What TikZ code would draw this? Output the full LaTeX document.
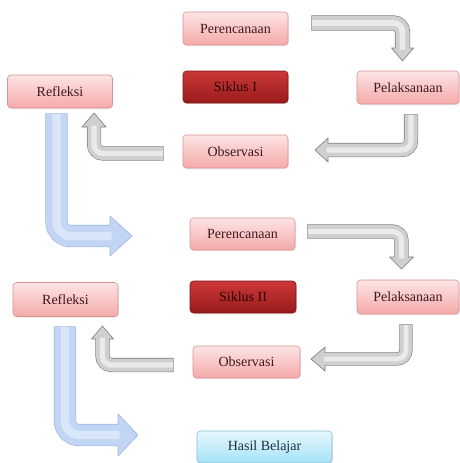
\documentclass[tikz,border=0pt]{standalone}
\usepackage{fontspec}
\setmainfont{Liberation Serif}
\usetikzlibrary{calc,shadows}
\definecolor{pinktop}{HTML}{FDE4E4}
\definecolor{pinkbot}{HTML}{F5A9A9}
\definecolor{pinkedge}{HTML}{D99393}
\definecolor{redtop}{HTML}{CC3838}
\definecolor{redbot}{HTML}{991B1B}
\definecolor{rededge}{HTML}{7A1414}
\definecolor{cyantop}{HTML}{E6F8FD}
\definecolor{cyanbot}{HTML}{A6E2F6}
\definecolor{cyanedge}{HTML}{86BDD4}
\definecolor{textdark}{HTML}{3E1A20}
\definecolor{textsik}{HTML}{2A0202}
\definecolor{textblue}{HTML}{22303A}
\definecolor{grayedge}{HTML}{7C7C7C}
\definecolor{grayfill}{HTML}{CFCFCF}
\definecolor{grayhi}{HTML}{EAEAEA}
\definecolor{blueedge}{HTML}{9CB4DF}
\definecolor{bluefill}{HTML}{C3D5F4}
\definecolor{bluehi}{HTML}{D9E5F9}
\tikzset{
  box/.style={rounded corners=3.5pt, minimum height=33pt, inner sep=0pt,
    font=\fontsize{14}{16}\selectfont, line width=0.6pt,
    drop shadow={opacity=0.18, shadow xshift=0.8pt, shadow yshift=-1.2pt}},
  pinkbox/.style={box, draw=pinkedge, top color=pinktop, bottom color=pinkbot, text=textdark},
  redbox/.style={box, draw=rededge, top color=redtop, bottom color=redbot},
  cyanbox/.style={box, draw=cyanedge, top color=cyantop, bottom color=cyanbot, text=textblue},
  siktext/.style={font=\fontsize{14}{16}\selectfont, text=textsik, inner sep=0pt},
}
% #1 colour prefix, #2 shaft width (pt), #3 head half width, #4 start, #5 corner, #6 head base, #7 tip, #8 corner radius
\newcommand{\blockarrow}[8]{%
  \draw[#1edge, line width=#2pt+1.2pt, rounded corners=#8, shorten <=-0.6pt] (#4) -- (#5) -- (#6);
  \filldraw[draw=#1edge, fill=#1fill, line width=0.6pt, line join=round]
    ($(#6)!#3!90:(#7)$) -- (#7) -- ($(#6)!#3!-90:(#7)$) -- cycle;
  \draw[#1fill, line width=#2pt, rounded corners=#8] (#4) -- (#5) -- ($(#6)!1.5pt!(#7)$);
  \draw[#1hi, line width=0.4*#2pt, rounded corners=#8] (#4) -- (#5) -- ($(#6)!1.5pt!(#7)$);
}
\begin{document}
\begin{tikzpicture}[x=1pt, y=-1pt]
\useasboundingbox (0,0) rectangle (459,463);
% cycle I
\node[pinkbox, minimum width=105pt] (p1) at (235.5,28.5) {Perencanaan};
\node[redbox, minimum width=105pt, minimum height=32pt] (s1) at (235.5,87) {};
\node[siktext] (s1t) at (s1.center) {Siklus I};
\node[pinkbox, minimum width=105pt] (o1) at (235.5,151.5) {Observasi};
\node[pinkbox, minimum width=105pt] (r1) at (60,91.5) {Refleksi};
\node[pinkbox, minimum width=102pt] (l1) at (408,87.5) {Pelaksanaan};
% cycle II
\node[pinkbox, minimum width=105pt, minimum height=32pt] (p2) at (242.5,234) {Perencanaan};
\node[redbox, minimum width=106pt, minimum height=32pt] (s2) at (243,297) {};
\node[siktext] (s2t) at (s2.center) {Siklus II};
\node[pinkbox, minimum width=107pt, minimum height=32pt] (o2) at (246.5,362) {Observasi};
\node[pinkbox, minimum width=105pt, minimum height=34pt] (r2) at (65.5,299.5) {Refleksi};
\node[pinkbox, minimum width=102pt, minimum height=34pt] (l2) at (408,297) {Pelaksanaan};
\node[cyanbox, minimum width=135pt, minimum height=32pt] (h) at (264.5,447) {Hasil Belajar};
% arrow coordinates
\coordinate (g1s) at (312,23);    \coordinate (g1c) at (402.5,23);
\coordinate (g1b) at (402.5,48);  \coordinate (g1t) at (402.5,61);
\coordinate (g2s) at (411,115);   \coordinate (g2c) at (411,150);
\coordinate (g2b) at (328,150);   \coordinate (g2t) at (315,150);
\coordinate (g3s) at (163,153.5); \coordinate (g3c) at (94,153.5);
\coordinate (g3b) at (94,127);    \coordinate (g3t) at (94,113);
\coordinate (b1s) at (56.5,114);  \coordinate (b1c) at (56.5,236);
\coordinate (b1b) at (110,236);   \coordinate (b1t) at (132,236);
\coordinate (g4s) at (308,231.5); \coordinate (g4c) at (401.5,231.5);
\coordinate (g4b) at (401.5,257); \coordinate (g4t) at (401.5,269);
\coordinate (g5s) at (406,325);   \coordinate (g5c) at (406,359);
\coordinate (g5b) at (325,359);   \coordinate (g5t) at (311,359);
\coordinate (g6s) at (173,365);   \coordinate (g6c) at (102.5,365);
\coordinate (g6b) at (102.5,339); \coordinate (g6t) at (102.5,326);
\coordinate (b2s) at (65,327);    \coordinate (b2c) at (65,435);
\coordinate (b2b) at (118,435);   \coordinate (b2t) at (138,435);
% arrows
\blockarrow{gray}{14}{11pt}{g1s}{g1c}{g1b}{g1t}{9pt}
\blockarrow{gray}{13}{12pt}{g2s}{g2c}{g2b}{g2t}{9pt}
\blockarrow{gray}{13}{12pt}{g3s}{g3c}{g3b}{g3t}{9pt}
\blockarrow{blue}{21}{20pt}{b1s}{b1c}{b1b}{b1t}{14pt}
\blockarrow{gray}{13}{12pt}{g4s}{g4c}{g4b}{g4t}{9pt}
\blockarrow{gray}{12}{12pt}{g5s}{g5c}{g5b}{g5t}{9pt}
\blockarrow{gray}{13}{11pt}{g6s}{g6c}{g6b}{g6t}{9pt}
\blockarrow{blue}{21}{21pt}{b2s}{b2c}{b2b}{b2t}{14pt}
\end{tikzpicture}
\end{document}
